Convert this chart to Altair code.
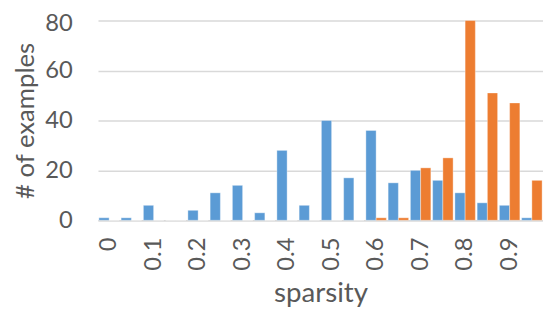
import altair as alt
import pandas as pd

categories = ["0", "0.05", "0.1", "0.15", "0.2", "0.25", "0.3", "0.35", "0.4", "0.45",
              "0.5", "0.55", "0.6", "0.65", "0.7", "0.75", "0.8", "0.85", "0.9", "0.95"]
blue_values = [1, 1, 6, 0, 4, 11, 14, 3, 28, 6, 40, 17, 36, 15, 20, 16, 11, 7, 6, 1]
orange_values = [0, 0, 0, 0, 0, 0, 0, 0, 0, 0, 0, 0, 1, 1, 21, 25, 80, 51, 47, 16]
tick_labels = ["0", "0.1", "0.2", "0.3", "0.4", "0.5", "0.6", "0.7", "0.8", "0.9"]
y_ticks = [0, 20, 40, 60, 80]
series_names = ["A", "B"]

rows = []
for c, b, o in zip(categories, blue_values, orange_values):
    rows.append({"sparsity": c, "series": series_names[0], "count": b})
    rows.append({"sparsity": c, "series": series_names[1], "count": o})
df = pd.DataFrame(rows)

FONT = "Lato"
TEXT = "#595959"

chart = alt.Chart(df).mark_bar(stroke="white", strokeWidth=0.6, strokeOpacity=0.6).encode(
    x=alt.X("sparsity:N", sort=categories,
            scale=alt.Scale(paddingInner=0.08, paddingOuter=0.04),
            axis=alt.Axis(values=tick_labels, labelAngle=-90, title="sparsity",
                          labelFontSize=24, titleFontSize=28, labelPadding=17,
                          titlePadding=10, ticks=False, domainColor="#D9D9D9",
                          domainWidth=1.5, labelColor=TEXT, titleColor=TEXT,
                          labelFont=FONT, titleFont=FONT, titleFontWeight="normal")),
    xOffset=alt.XOffset("series:N", sort=series_names),
    y=alt.Y("count:Q", scale=alt.Scale(domain=[0, 80], nice=False),
            axis=alt.Axis(values=y_ticks, title="# of examples",
                          labelFontSize=24, titleFontSize=26, labelPadding=26,
                          labelOffset={"condition": {"test": "datum.value == 80", "value": 3}, "value": 0},
                          titleX=-73, titleY=101, titleAngle=270,
                          titleAlign="center", titleBaseline="middle",
                          ticks=False, domain=False,
                          gridColor="#D9D9D9", gridWidth=1.5,
                          labelColor=TEXT, titleColor=TEXT,
                          labelFont=FONT, titleFont=FONT, titleFontWeight="normal")),
    color=alt.Color("series:N", sort=series_names,
                    scale=alt.Scale(domain=series_names, range=["#5B9BD5", "#ED7D31"]),
                    legend=None),
).properties(
    width=450, height=202,
    autosize=alt.AutoSizeParams(type="none"),
    padding={"left": 91, "top": 11, "right": 0, "bottom": 86},
).configure_view(stroke=None)

chart.save("out.html", embed_options={"renderer": "svg", "actions": False})
